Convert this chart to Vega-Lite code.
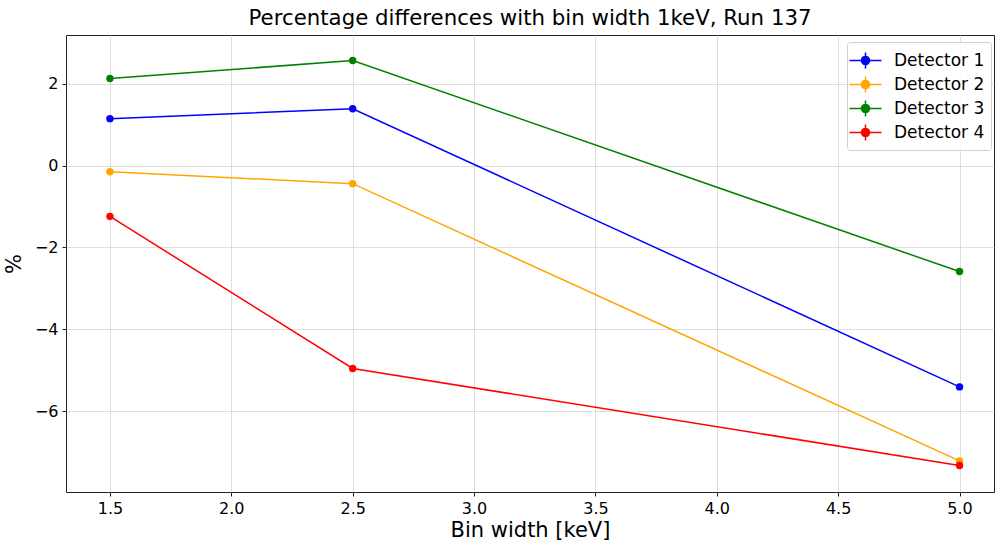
{
  "$schema": "https://vega.github.io/schema/vega-lite/v6.json",
  "width": 928,
  "height": 457,
  "autosize": "none",
  "padding": {"left": 66, "top": 35, "right": 1, "bottom": 49},
  "title": {"text": "Percentage differences with bin width 1keV, Run 137", "fontSize": 21.3, "font": "DejaVu Sans", "fontWeight": "normal", "color": "#000", "offset": 6},
  "config": {
    "view": {"stroke": "#222", "strokeWidth": 1},
    "font": "DejaVu Sans",
    "axis": {"domain": false, "gridColor": "#d6d6d6", "gridWidth": 0.8, "tickColor": "#222", "tickSize": 4, "labelFontSize": 16, "labelColor": "#000", "titleFontSize": 21, "titleFontWeight": "normal", "titleColor": "#000", "labelPadding": 4}
  },
  "data": {"values": [
    {"bw": 1.5, "pct": 1.15, "lo": 1.10, "hi": 1.20, "det": "Detector 1"},
    {"bw": 2.5, "pct": 1.39, "lo": 1.34, "hi": 1.44, "det": "Detector 1"},
    {"bw": 5.0, "pct": -5.41, "lo": -5.47, "hi": -5.35, "det": "Detector 1"},
    {"bw": 1.5, "pct": -0.15, "lo": -0.20, "hi": -0.10, "det": "Detector 2"},
    {"bw": 2.5, "pct": -0.44, "lo": -0.49, "hi": -0.39, "det": "Detector 2"},
    {"bw": 5.0, "pct": -7.22, "lo": -7.28, "hi": -7.16, "det": "Detector 2"},
    {"bw": 1.5, "pct": 2.13, "lo": 2.08, "hi": 2.18, "det": "Detector 3"},
    {"bw": 2.5, "pct": 2.57, "lo": 2.52, "hi": 2.62, "det": "Detector 3"},
    {"bw": 5.0, "pct": -2.59, "lo": -2.64, "hi": -2.54, "det": "Detector 3"},
    {"bw": 1.5, "pct": -1.24, "lo": -1.31, "hi": -1.17, "det": "Detector 4"},
    {"bw": 2.5, "pct": -4.96, "lo": -5.03, "hi": -4.89, "det": "Detector 4"},
    {"bw": 5.0, "pct": -7.33, "lo": -7.39, "hi": -7.27, "det": "Detector 4"}
  ]},
  "encoding": {
    "x": {"field": "bw", "type": "quantitative", "title": "Bin width [keV]", "scale": {"domain": [1.319, 5.142], "nice": false, "zero": false}, "axis": {"values": [1.5, 2.0, 2.5, 3.0, 3.5, 4.0, 4.5, 5.0], "format": ".1f", "titlePadding": 3}},
    "color": {"field": "det", "type": "nominal", "scale": {"domain": ["Detector 1", "Detector 2", "Detector 3", "Detector 4"], "range": ["#0000ff", "#ffa500", "#008000", "#ff0000"]},
      "legend": {"title": null, "orient": "none", "legendX": 781, "legendY": 7, "labelFontSize": 17, "labelColor": "#000", "symbolType": "M-1.39,0H-0.35A0.35,0.35 0 1,1 0.35,0A0.35,0.35 0 1,1 -0.35,0M0.35,0H1.39M0,-0.7V-0.35M0,0.35V0.7", "symbolSize": 530, "symbolStrokeWidth": 1.5, "rowPadding": 0, "padding": 6, "strokeColor": "#d0d0d0", "fillColor": "rgba(255,255,255,0.85)", "cornerRadius": 3, "labelOffset": 16}}
  },
  "layer": [
    {"mark": {"type": "line", "strokeWidth": 1.5}, "encoding": {"y": {"field": "pct", "type": "quantitative", "title": "%", "scale": {"domain": [-7.98, 3.195], "nice": false, "zero": false}, "axis": {"values": [-6, -4, -2, 0, 2], "titlePadding": 10}}}},
    {"mark": {"type": "rule", "strokeWidth": 1.5}, "encoding": {"y": {"field": "lo", "type": "quantitative"}, "y2": {"field": "hi"}}},
    {"mark": {"type": "point", "filled": true, "size": 55, "opacity": 1}, "encoding": {"y": {"field": "pct", "type": "quantitative"}}}
  ]
}
